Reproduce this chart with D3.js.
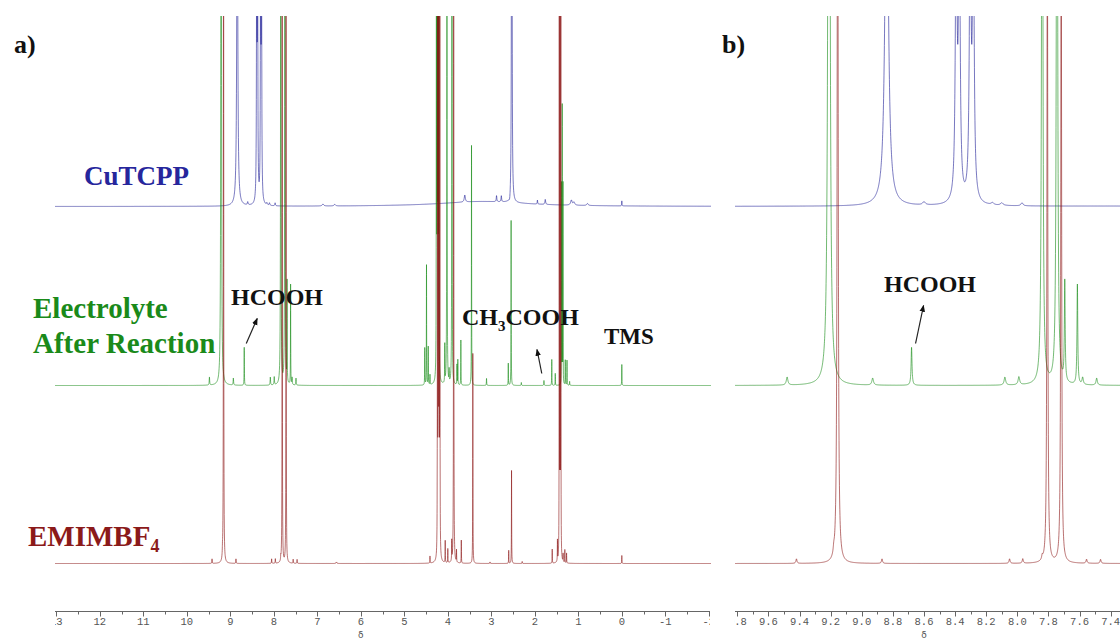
<!DOCTYPE html>
<html>
<head>
<meta charset="utf-8">
<script src="https://cdn.jsdelivr.net/npm/d3@7"></script>
<style>
  html, body { margin: 0; padding: 0; background: #fff; }
  svg { display: block; }
</style>
</head>
<body>
<svg id="chart" width="1120" height="639"></svg>
<script>
// ---------------- DATA ----------------
// Each peak: [chemical shift (ppm), intensity, half-width (ppm)]
const cutcppPeaks = [
  [8.84, 400, 0.012],
  [8.393, 300, 0.006], [8.373, 300, 0.006],
  [8.303, 300, 0.006], [8.283, 300, 0.006],
  [8.60, 3, 0.01],
  [8.16, 2, 0.01], [8.10, 2.5, 0.01], [7.97, 3, 0.008],
  [6.87, 2, 0.02], [6.60, 1.5, 0.02],
  [3.61, 7, 0.015],
  [2.88, 6, 0.008], [2.77, 6, 0.008],
  [2.53, 1500, 0.004],
  [2.575, -6, 0.02],
  [1.94, 4, 0.006], [1.76, 5, 0.01],
  [1.16, 5, 0.02], [1.10, 3, 0.02],
  [0.79, 2, 0.02],
  [0.00, 5, 0.004],
  [3.2, 5, 1.2]
];

const electrolytePeaks = [
  [9.48, 8, 0.006],
  [9.211, 1500, 0.005],
  [8.93, 7, 0.006],
  [8.68, 38, 0.0035],
  [8.08, 8, 0.006], [7.99, 8, 0.006],
  [7.84, 900, 0.004], [7.745, 900, 0.004],
  [7.695, 100, 0.003], [7.614, 100, 0.003],
  [7.58, 7, 0.005], [7.49, 7, 0.005],
  [4.53, 37, 0.003], [4.49, 120, 0.003], [4.45, 38, 0.003],
  [4.41, 10, 0.003],
  [4.262, 1200, 0.002], [4.244, 1800, 0.002], [4.226, 1800, 0.002], [4.208, 1200, 0.002],
  [4.07, 38, 0.003],
  [4.02, 1000, 0.003],
  [3.97, 12, 0.003],
  [3.905, 1000, 0.003],
  [3.79, 20, 0.003], [3.77, 25, 0.003],
  [3.70, 45, 0.003],
  [3.455, 240, 0.003],
  [3.11, 7, 0.004],
  [2.61, 22, 0.003],
  [2.545, 165, 0.003],
  [2.31, 3, 0.004],
  [1.79, 5, 0.004],
  [1.61, 26, 0.003],
  [1.53, 12, 0.003],
  [1.388, 200, 0.002], [1.37, 277, 0.002], [1.352, 200, 0.002],
  [1.30, 25, 0.003], [1.26, 25, 0.003],
  [1.20, 4, 0.004],
  [0.00, 21, 0.003]
];

const emimPeaks = [
  [9.42, 4.5, 0.004],
  [9.18, 5, 0.004],
  [9.155, 900, 0.0035],
  [8.87, 4.5, 0.004],
  [8.05, 4.5, 0.004], [7.965, 4.5, 0.004],
  [7.84, 4, 0.004],
  [7.807, 700, 0.003], [7.718, 700, 0.003],
  [7.555, 4, 0.004], [7.465, 4, 0.004],
  [6.56, 1.5, 0.01],
  [4.41, 7, 0.003],
  [4.237, 1000, 0.002], [4.219, 1500, 0.002], [4.201, 1500, 0.002], [4.183, 1000, 0.002],
  [4.06, 22, 0.003],
  [4.00, 14, 0.003],
  [3.91, 20, 0.003],
  [3.865, 1000, 0.003],
  [3.80, 12, 0.003],
  [3.69, 23, 0.003],
  [3.425, 210, 0.003],
  [3.03, 1.5, 0.005],
  [2.60, 13, 0.003],
  [2.535, 93, 0.003],
  [2.29, 2, 0.004],
  [1.60, 14, 0.003],
  [1.48, 21, 0.003],
  [1.438, 800, 0.002], [1.42, 1100, 0.002], [1.402, 800, 0.002],
  [1.35, 8, 0.003], [1.31, 13, 0.003], [1.27, 10, 0.003],
  [0.00, 8, 0.003]
];

const seriesNames = ["CuTCPP", "Electrolyte After Reaction", "EMIMBF4"];
const ticksA = [13, 12, 11, 10, 9, 8, 7, 6, 5, 4, 3, 2, 1, 0, -1, -2];
const ticksB = [9.8, 9.6, 9.4, 9.2, 9.0, 8.8, 8.6, 8.4, 8.2, 8.0, 7.8, 7.6, 7.4];

// ---------------- LAYOUT ----------------
const svg = d3.select("#chart");
const plotTop = 16;
const axisY = 611.5;

const xA = d3.scaleLinear().domain([13.03, -2.05]).range([55, 711]);
const xB = d3.scaleLinear().domain([9.815, 7.34]).range([735, 1120]);

const series = [
  { name: seriesNames[0], peaks: cutcppPeaks, base: 206.5, color: "#1c1c96" },
  { name: seriesNames[1], peaks: electrolytePeaks, base: 385.5, color: "#128a12" },
  { name: seriesNames[2], peaks: emimPeaks, base: 563.5, color: "#8a1010" }
];
series.forEach(s => {
  s.y = d3.scaleLinear().domain([0, 190]).range([s.base, s.base - 190]);
});

const defs = svg.append("defs");
function addClip(id, x0, x1, y0, y1) {
  defs.append("clipPath").attr("id", id).append("rect")
    .attr("x", x0).attr("y", y0).attr("width", x1 - x0).attr("height", y1 - y0);
}
addClip("clipA", 55, 711, plotTop, 600);
addClip("clipB", 735, 1120, plotTop, 600);
addClip("clipAxA", 55, 710, 590, 639);
addClip("clipAxB", 734, 1120, 590, 639);

defs.append("marker").attr("id", "arrow")
  .attr("viewBox", "0 0 10 10").attr("refX", 9).attr("refY", 5)
  .attr("markerWidth", 7).attr("markerHeight", 8).attr("orient", "auto")
  .attr("markerUnits", "userSpaceOnUse")
  .append("path").attr("d", "M0,1 L10,5 L0,9 Z").attr("fill", "#111");

// Lorentzian line shape sampled finely, with extra samples at each peak
const offs = [-60, -30, -15, -8, -5, -3, -2, -1.5, -1, -0.6, -0.3, 0, 0.3, 0.6, 1, 1.5, 2, 3, 5, 8, 15, 30, 60];
function spectrum(peaks, lo, hi, n) {
  const step = (hi - lo) / n;
  let xs = d3.range(n + 1).map(i => lo + i * step);
  peaks.forEach(([c, h, g]) => offs.forEach(k => xs.push(c + k * g)));
  xs = xs.filter(v => v >= lo && v <= hi).sort((a, b) => a - b);
  return xs.map(v => [v, d3.sum(peaks, ([c, h, g]) => h * g * g / ((v - c) * (v - c) + g * g))]);
}

function drawPanel(x, clipId, lo, hi, n) {
  const g = svg.append("g").attr("clip-path", `url(#${clipId})`);
  series.forEach(s => {
    const pts = spectrum(s.peaks, lo, hi, n);
    const line = d3.line().x(d => x(d[0])).y(d => s.y(d[1]));
    g.append("path").datum(pts)
      .attr("d", line)
      .attr("fill", "none")
      .attr("stroke", s.color)
      .attr("stroke-width", 0.6)
      .attr("stroke-linejoin", "round");
  });
}
drawPanel(xA, "clipA", -2.1, 13.1, 4000);
drawPanel(xB, "clipB", 7.3, 9.85, 3000);

// ---------------- AXES ----------------
function drawAxis(x, clipId, majors, minorStep, fmt, x0, x1) {
  const g = svg.append("g").attr("clip-path", `url(#${clipId})`);
  g.append("line").attr("x1", x0).attr("x2", x1).attr("y1", axisY).attr("y2", axisY)
    .attr("stroke", "#666").attr("stroke-width", 1);
  const [d0, d1] = x.domain();
  const lo = Math.min(d0, d1), hi = Math.max(d0, d1);
  const minors = d3.range(Math.ceil(lo / minorStep) * minorStep, hi + 1e-9, minorStep);
  g.selectAll(".mn").data(minors).join("line")
    .attr("x1", d => Math.round(x(d)) + 0.5).attr("x2", d => Math.round(x(d)) + 0.5)
    .attr("y1", axisY).attr("y2", axisY + 3)
    .attr("stroke", "#666").attr("stroke-width", 1);
  g.selectAll(".mj").data(majors).join("line")
    .attr("x1", d => Math.round(x(d)) + 0.5).attr("x2", d => Math.round(x(d)) + 0.5)
    .attr("y1", axisY).attr("y2", axisY + 5)
    .attr("stroke", "#666").attr("stroke-width", 1);
  g.selectAll(".lb").data(majors).join("text")
    .attr("x", d => x(d)).attr("y", axisY + 13)
    .attr("text-anchor", "middle")
    .attr("font-family", "Liberation Mono, DejaVu Sans Mono, monospace")
    .attr("font-size", 10.5).attr("fill", "#555")
    .text(fmt);
}
drawAxis(xA, "clipAxA", ticksA, 0.5, d => d3.format("d")(d).replace("−", "-"), 55, 711);
drawAxis(xB, "clipAxB", ticksB, 0.1, d => d3.format(".1f")(d), 735, 1120);

svg.append("text").attr("x", xA(6)).attr("y", 638).attr("text-anchor", "middle")
  .attr("font-family", "DejaVu Sans, sans-serif").attr("font-size", 9).attr("fill", "#555").text("δ");
svg.append("text").attr("x", xB(8.6)).attr("y", 638).attr("text-anchor", "middle")
  .attr("font-family", "DejaVu Sans, sans-serif").attr("font-size", 9).attr("fill", "#555").text("δ");

// ---------------- LABELS ----------------
const serif = "Liberation Serif, Times New Roman, serif";
function label(x, y, txt, size, color) {
  return svg.append("text").attr("x", x).attr("y", y)
    .attr("font-family", serif).attr("font-weight", "bold")
    .attr("font-size", size).attr("fill", color).text(txt);
}
label(14, 53, "a)", 26, "#111");
label(722, 53, "b)", 26, "#111");

label(84, 185, "CuTCPP", 27, "#26269c");
label(33, 318, "Electrolyte", 29, "#1a8a1a");
label(33, 353, "After Reaction", 29, "#1a8a1a");
const em = label(28, 546, "EMIMBF", 29, "#8b1a1a");
em.append("tspan").attr("font-size", 18).attr("dy", 6).text("4");

label(231, 305, "HCOOH", 24, "#111");
label(884, 292, "HCOOH", 24, "#111");
const ch = label(462, 325, "CH", 24, "#111");
ch.append("tspan").attr("font-size", 15).attr("dy", 6).text("3");
ch.append("tspan").attr("dy", -6).text("COOH");
label(604, 344, "TMS", 23, "#111");

// annotation arrows
function arrow(x1, y1, x2, y2) {
  svg.append("line").attr("x1", x1).attr("y1", y1).attr("x2", x2).attr("y2", y2)
    .attr("stroke", "#222").attr("stroke-width", 1.2).attr("marker-end", "url(#arrow)");
}
arrow(xA(8.68) + 2, series[1].y(42), xA(8.68) + 13, series[1].y(67));
arrow(xA(1.84), series[1].y(12), xA(1.95), series[1].y(36));
arrow(xB(8.68) + 4, series[1].y(42), xB(8.68) + 12, series[1].y(80));
</script>
</body>
</html>
